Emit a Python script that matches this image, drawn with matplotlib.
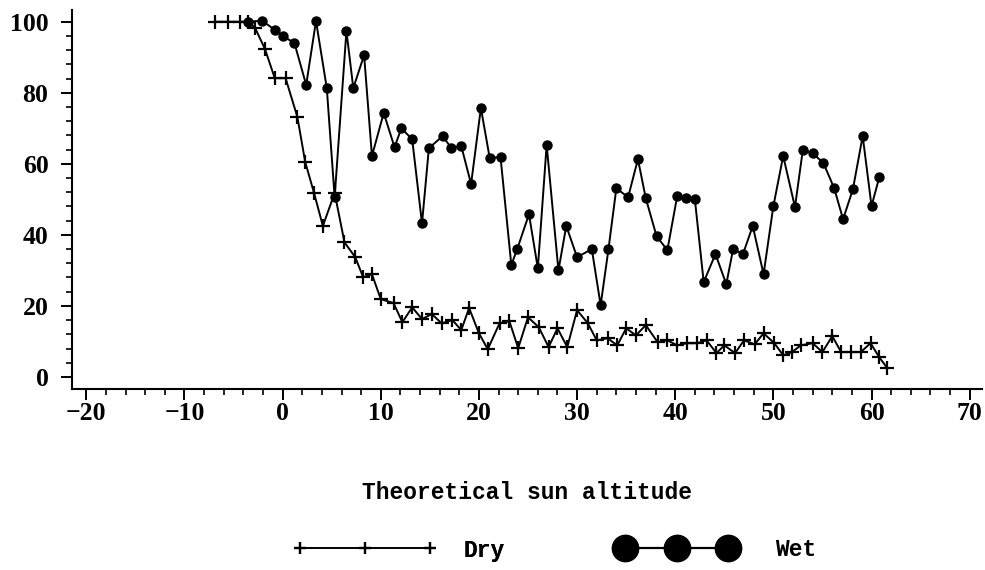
import matplotlib
matplotlib.use("Agg")
import matplotlib.pyplot as plt
from matplotlib.legend_handler import HandlerLine2D
from matplotlib.ticker import MultipleLocator

# sun altitude (degrees) and percentage for the dry readings
dry_alt = [-6.9, -5.6, -4.3, -3.5, -2.8, -1.8, -0.8, 0.3, 1.5, 2.3, 3.2, 4.1,
           5.3, 6.3, 7.4, 8.2, 9.1, 10.0, 11.3, 12.2, 13.2, 14.2, 15.2, 16.2,
           17.3, 18.2, 19.0, 20.0, 20.9, 22.1, 23.1, 24.0, 25.0, 26.1, 27.1,
           28.0, 29.0, 30.0, 31.1, 32.0, 33.1, 34.1, 35.0, 36.0, 37.0, 38.2,
           39.2, 40.2, 41.2, 42.2, 43.2, 44.2, 45.0, 46.1, 47.0, 48.1, 49.0,
           50.1, 51.0, 51.9, 52.8, 54.0, 55.0, 56.0, 56.9, 57.9, 58.9, 59.9,
           60.8, 61.6]
dry_pct = [100, 100, 100, 100, 98.2, 92.3, 84.1, 84.1, 73.2, 60.5, 51.8, 42.5,
           51.8, 37.9, 33.7, 28.1, 28.9, 21.9, 20.8, 15.4, 19.6, 16.3, 17.7, 15.1,
           16.0, 13.2, 19.4, 12.3, 7.8, 15.1, 15.7, 8.1, 16.8, 14.0, 8.4,
           13.7, 8.4, 18.8, 15.1, 10.3, 10.9, 8.9, 13.7, 11.7, 14.6, 9.8,
           10.3, 8.9, 9.5, 9.5, 10.3, 6.7, 8.9, 6.7, 10.3, 9.2, 12.3,
           9.5, 6.1, 7.0, 8.9, 9.5, 7.0, 11.5, 7.0, 7.0, 7.0, 9.5,
           5.5, 2.5]

# sun altitude (degrees) and percentage for the wet readings
wet_alt = [-3.5, -2.1, -0.8, 0.0, 1.2, 2.4, 3.4, 4.5, 5.3, 6.5, 7.2, 8.3,
           9.1, 10.3, 11.4, 12.1, 13.2, 14.2, 14.9, 16.3, 17.2, 18.2, 19.2,
           20.2, 21.1, 22.2, 23.3, 23.9, 25.1, 26.0, 26.9, 28.1, 28.9, 30.0,
           31.5, 32.4, 33.2, 34.0, 35.2, 36.2, 37.0, 38.1, 39.2, 40.2, 41.1,
           42.0, 42.9, 44.1, 45.2, 45.9, 46.9, 47.9, 49.0, 50.0, 51.0, 52.2,
           53.0, 54.0, 55.1, 56.2, 57.1, 58.1, 59.1, 60.0, 60.8]
wet_pct = [100, 100.3, 97.7, 96.0, 94.0, 82.2, 100.2, 81.3, 50.6, 97.4, 81.3, 90.6,
           62.2, 74.3, 64.7, 70.0, 66.9, 43.2, 64.4, 67.8, 64.4, 65.0, 54.3,
           75.7, 61.6, 61.9, 31.5, 36.0, 45.8, 30.6, 65.3, 30.0, 42.5, 33.7,
           36.0, 20.2, 36.0, 53.1, 50.6, 61.3, 50.3, 39.6, 35.7, 50.9, 50.3,
           50.0, 26.7, 34.6, 26.1, 36.0, 34.6, 42.5, 28.9, 48.1, 62.2, 47.8,
           63.9, 63.0, 60.2, 53.1, 44.4, 52.8, 67.8, 48.1, 56.3]

x_ticks = [-20, -10, 0, 10, 20, 30, 40, 50, 60, 70]
y_ticks = [0, 20, 40, 60, 80, 100]

tick_font = {"family": "Liberation Serif", "weight": "bold", "size": 18.5}
label_font = {"family": "Liberation Mono", "weight": "bold", "size": 16.5}

fig = plt.figure(figsize=(9.85, 5.7), dpi=100)
ax = fig.add_axes([0.0731, 0.3175, 0.9239, 0.665])

dry_line, = ax.plot(dry_alt, dry_pct, color="black", lw=1.4,
                    marker="+", ms=10, mew=1.6)
wet_line, = ax.plot(wet_alt, wet_pct, color="black", lw=1.4,
                    marker="o", ms=6.5)

ax.set_xlim(-21.46, 71.26)
ax.set_ylim(-3.4, 103.3)

# only the left and bottom axis lines, ticks pointing outward
for side in ["top", "right"]:
    ax.spines[side].set_visible(False)
for side in ["left", "bottom"]:
    ax.spines[side].set_linewidth(1.5)

ax.set_xticks(x_ticks)
ax.set_yticks(y_ticks)
ax.xaxis.set_minor_locator(MultipleLocator(2))
ax.yaxis.set_minor_locator(MultipleLocator(4))
ax.tick_params(which="major", direction="out", length=8, width=1.4)
ax.tick_params(which="minor", direction="out", length=4, width=1.2)
ax.tick_params(axis="y", which="major", pad=9)
ax.tick_params(axis="x", which="major", pad=1.5)
for lbl in ax.get_xticklabels() + ax.get_yticklabels():
    lbl.set_fontproperties(matplotlib.font_manager.FontProperties(**tick_font))

ax.set_xlabel("Theoretical sun altitude", fontdict=label_font, labelpad=40)

# legend sits below the axis label, one entry per block
legend_y = 1 - 550 / 570
dry_leg = fig.legend(handles=[dry_line], labels=["Dry"], loc="center left",
                     bbox_to_anchor=(289 / 985, legend_y),
                     frameon=False, borderpad=0, handlelength=5.65,
                     handletextpad=1.45, prop=label_font,
                     handler_map={dry_line: HandlerLine2D(numpoints=3, marker_pad=0)})
for h in dry_leg.legend_handles:
    h.set_markersize(8)
    h.set_linewidth(1.2)

wet_leg = fig.legend(handles=[wet_line], labels=["Wet"], loc="center left",
                     bbox_to_anchor=(614 / 985, legend_y),
                     frameon=False, borderpad=0, handlelength=4.48,
                     handletextpad=2.05, prop=label_font,
                     handler_map={wet_line: HandlerLine2D(numpoints=3, marker_pad=0)})
for h in wet_leg.legend_handles:
    h.set_markersize(19)
    h.set_linewidth(1.6)
fig.add_artist(dry_leg)

fig.savefig("out.png", dpi=100)
